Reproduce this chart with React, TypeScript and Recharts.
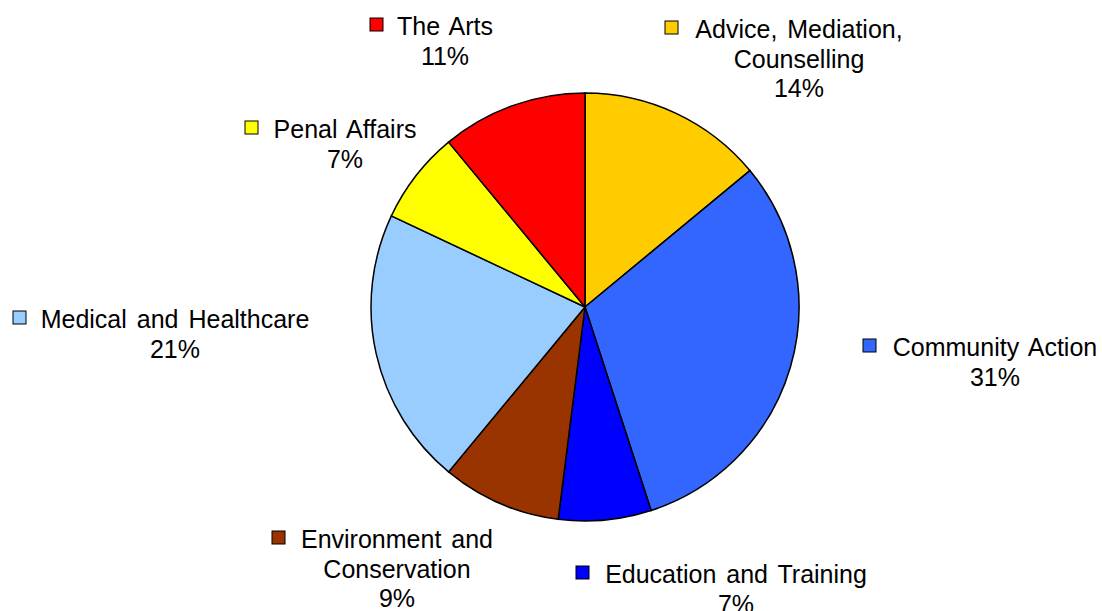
import { PieChart, Pie, Cell } from "recharts";

const categories = [
  "Advice, Mediation, Counselling",
  "Community Action",
  "Education and Training",
  "Environment and Conservation",
  "Medical and Healthcare",
  "Penal Affairs",
  "The Arts",
];
const shares = [14, 31, 7, 9, 21, 7, 11];
const colors = [
  "#FFCC00",
  "#3366FF",
  "#0000FF",
  "#993300",
  "#99CCFF",
  "#FFFF00",
  "#FF0000",
];

const data = categories.map((name, i) => ({ name, value: shares[i] }));

// label text lines (name wrapped the way the original shows it)
const labelLines: Record<string, string[]> = {
  "Advice, Mediation, Counselling": ["Advice, Mediation,", "Counselling"],
  "Environment and Conservation": ["Environment and", "Conservation"],
};

// label block placement relative to the pie centre:
// dx = centre of text, dy = first baseline, sq = square left edge relative to dx
const labelLayout: Record<string, { dx: number; dy: number; sq: number }> = {
  "Advice, Mediation, Counselling": { dx: 214, dy: -269, sq: -134 },
  "Community Action": { dx: 410, dy: 49, sq: -132 },
  "Education and Training": { dx: 151, dy: 276, sq: -160 },
  "Environment and Conservation": { dx: -188, dy: 241, sq: -125 },
  "Medical and Healthcare": { dx: -410, dy: 21, sq: -162 },
  "Penal Affairs": { dx: -240, dy: -169, sq: -100 },
  "The Arts": { dx: -140, dy: -272, sq: -75 },
};

const FONT = "'Liberation Sans', Arial, sans-serif";
const LINE_H = 29.5;

const renderLabel = (props: any) => {
  const { cx, cy, name, percent, index } = props;
  const lay = labelLayout[name];
  if (!lay) return null;
  const x = cx + lay.dx;
  const y = cy + lay.dy;
  const lines = [...(labelLines[name] || [name]), `${Math.round(percent * 100)}%`];
  return (
    <g key={`lbl-${index}`}>
      <rect
        x={x + lay.sq}
        y={y - 17}
        width={13}
        height={13}
        fill={colors[index]}
        stroke="#000"
        strokeWidth={1}
      />
      {lines.map((t, k) => (
        <text
          key={k}
          x={x}
          y={y + k * LINE_H}
          textAnchor="middle"
          fontFamily={FONT}
          fontSize={25}
          fill="#000"
          style={{ wordSpacing: "3px" }}
        >
          {t}
        </text>
      ))}
    </g>
  );
};

export default function App() {
  return (
    <div
      style={{
        position: "absolute",
        left: 0,
        top: 0,
        width: 1102,
        height: 611,
        overflow: "hidden",
        background: "#fff",
      }}
    >
      <PieChart width={1102} height={611} margin={{ top: 0, right: 0, bottom: 0, left: 0 }}>
        <Pie
          data={data}
          dataKey="value"
          nameKey="name"
          cx={585}
          cy={307}
          outerRadius={214}
          startAngle={90}
          endAngle={-270}
          stroke="#000"
          strokeWidth={1.5}
          label={renderLabel}
          labelLine={false}
          isAnimationActive={false}
        >
          {data.map((d, i) => (
            <Cell key={d.name} fill={colors[i]} />
          ))}
        </Pie>
      </PieChart>
    </div>
  );
}
